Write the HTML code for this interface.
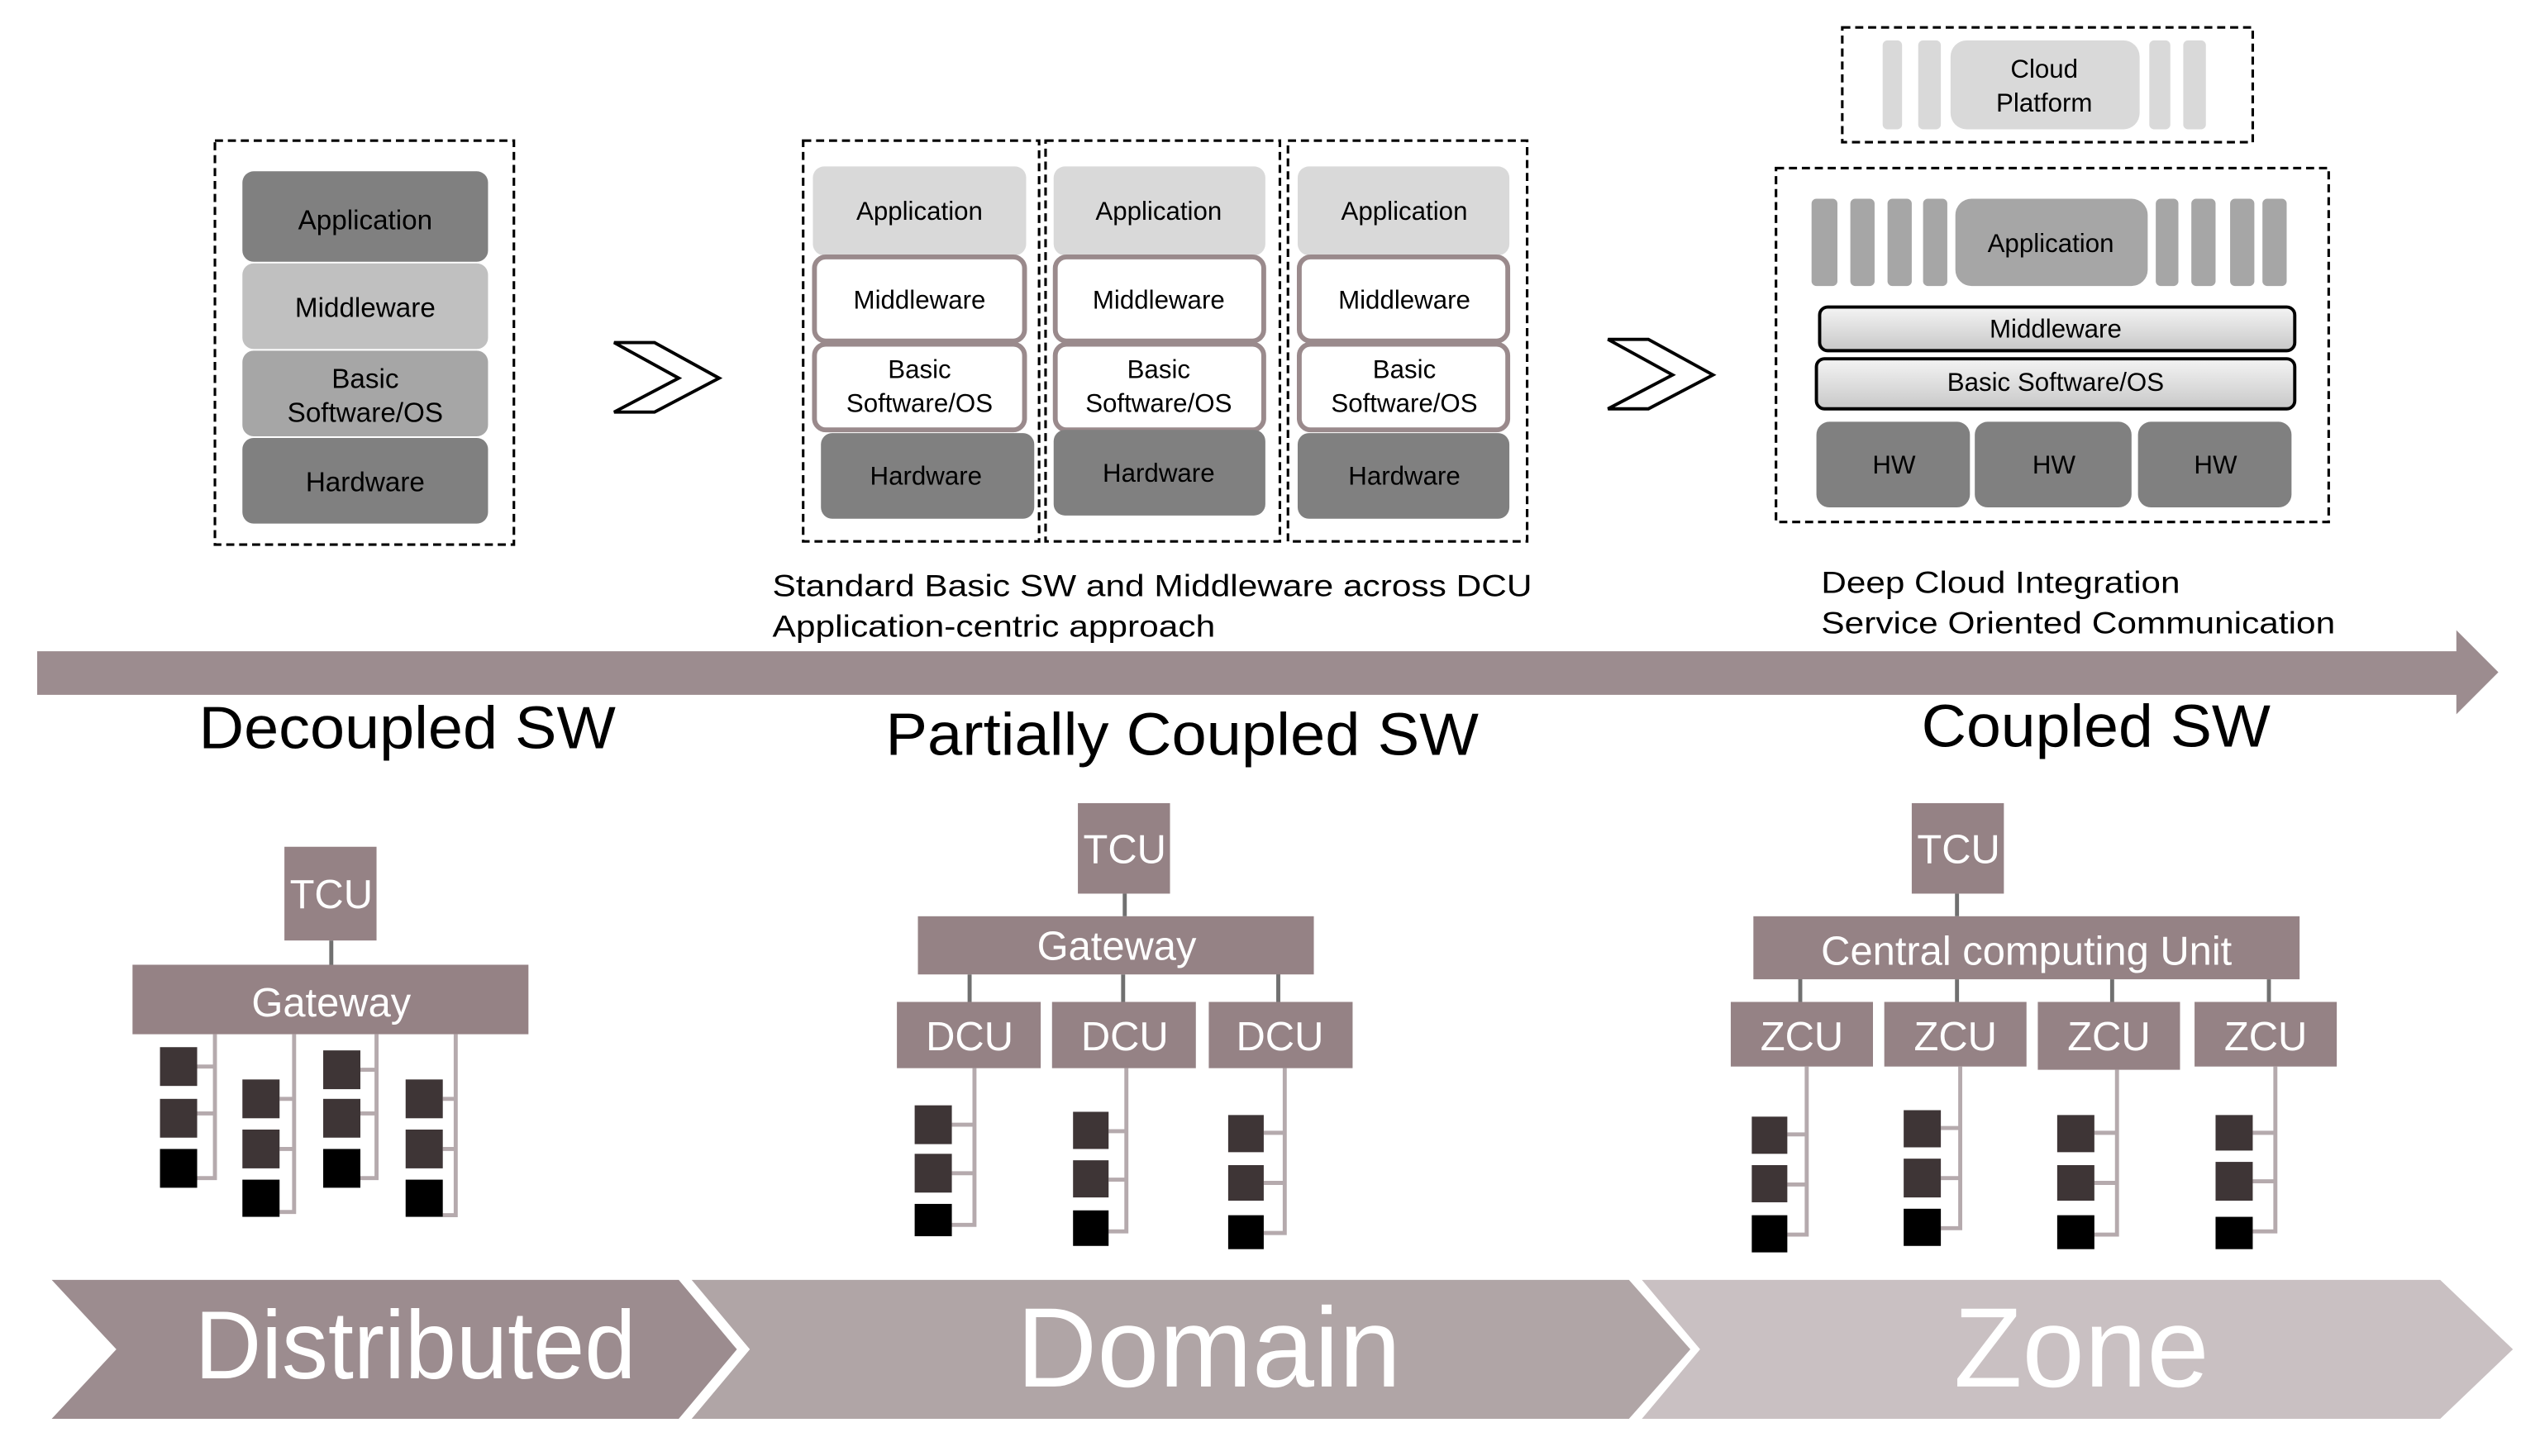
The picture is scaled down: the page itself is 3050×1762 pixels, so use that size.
<!DOCTYPE html>
<html><head><meta charset="utf-8"><style>
html,body{margin:0;padding:0;background:#fff;}
svg{display:block;}
text{font-family:"Liberation Sans",Arial,sans-serif;}
</style></head><body>
<svg width="3050" height="1762" viewBox="0 0 1560 901" preserveAspectRatio="none" xmlns="http://www.w3.org/2000/svg">
<defs>
<linearGradient id="g" x1="0" y1="0" x2="0" y2="1"><stop offset="0" stop-color="#f4f4f4"/><stop offset="1" stop-color="#c8c8c8"/></linearGradient>
</defs>
<g fill="none" stroke="#000" stroke-width="1.6" stroke-dasharray="5,3">
<rect x="133" y="87" width="185" height="250"/>
<rect x="497" y="87" width="146" height="248"/>
<rect x="647" y="87" width="145" height="248"/>
<rect x="797" y="87" width="148" height="248"/>
<rect x="1140" y="17" width="254" height="71"/>
<rect x="1099" y="104" width="342" height="219"/>
</g>
<!-- stack 1 -->
<rect x="150" y="106" width="152" height="56" rx="7" fill="#808080"/>
<rect x="150" y="163" width="152" height="53" rx="7" fill="#c0c0c0"/>
<rect x="150" y="217" width="152" height="53" rx="7" fill="#a6a6a6"/>
<rect x="150" y="271" width="152" height="53" rx="7" fill="#808080"/>
<g font-size="17" text-anchor="middle" fill="#000">
<text x="226" y="142">Application</text>
<text x="226" y="196">Middleware</text>
<text x="226" y="240">Basic</text>
<text x="226" y="261">Software/OS</text>
<text x="226" y="304">Hardware</text>
</g>
<!-- chevrons -->
<polygon points="380,212 405,212 445,234 405,255 380,255 420,234" fill="#fff" stroke="#000" stroke-width="2"/>
<polygon points="995,210 1020,210 1060,232 1020,253 995,253 1035,232" fill="#fff" stroke="#000" stroke-width="2"/>
<!-- domain stacks -->
<g>
<rect x="503" y="103" width="132" height="55" rx="7" fill="#d9d9d9"/>
<rect x="504" y="159" width="130" height="52" rx="7" fill="#fff" stroke="#9a8a8c" stroke-width="3"/>
<rect x="504" y="213" width="130" height="53" rx="7" fill="#fff" stroke="#9a8a8c" stroke-width="3"/>
<rect x="508" y="268" width="132" height="53" rx="7" fill="#808080"/>
<rect x="652" y="103" width="131" height="55" rx="7" fill="#d9d9d9"/>
<rect x="653" y="159" width="129" height="52" rx="7" fill="#fff" stroke="#9a8a8c" stroke-width="3"/>
<rect x="653" y="213" width="129" height="53" rx="7" fill="#fff" stroke="#9a8a8c" stroke-width="3"/>
<rect x="652" y="266" width="131" height="53" rx="7" fill="#808080"/>
<rect x="803" y="103" width="131" height="55" rx="7" fill="#d9d9d9"/>
<rect x="804" y="159" width="129" height="52" rx="7" fill="#fff" stroke="#9a8a8c" stroke-width="3"/>
<rect x="804" y="213" width="129" height="53" rx="7" fill="#fff" stroke="#9a8a8c" stroke-width="3"/>
<rect x="803" y="268" width="131" height="53" rx="7" fill="#808080"/>
</g>
<g font-size="16" text-anchor="middle" fill="#000">
<text x="569" y="136">Application</text><text x="569" y="191">Middleware</text><text x="569" y="234">Basic</text><text x="569" y="255">Software/OS</text><text x="573" y="300">Hardware</text>
<text x="717" y="136">Application</text><text x="717" y="191">Middleware</text><text x="717" y="234">Basic</text><text x="717" y="255">Software/OS</text><text x="717" y="298">Hardware</text>
<text x="869" y="136">Application</text><text x="869" y="191">Middleware</text><text x="869" y="234">Basic</text><text x="869" y="255">Software/OS</text><text x="869" y="300">Hardware</text>
</g>
<g font-size="19" fill="#000">
<text x="478" y="369" textLength="470" lengthAdjust="spacingAndGlyphs">Standard Basic SW and Middleware across DCU</text>
<text x="478" y="394" textLength="274" lengthAdjust="spacingAndGlyphs">Application-centric approach</text>
<text x="1127" y="367" textLength="222" lengthAdjust="spacingAndGlyphs">Deep Cloud Integration</text>
<text x="1127" y="392" textLength="318" lengthAdjust="spacingAndGlyphs">Service Oriented Communication</text>
</g>
<!-- cloud -->
<g fill="#d9d9d9">
<rect x="1165" y="25" width="12" height="55" rx="3"/><rect x="1187" y="25" width="14" height="55" rx="3"/>
<rect x="1207" y="25" width="117" height="55" rx="10"/>
<rect x="1330" y="25" width="13" height="55" rx="3"/><rect x="1351" y="25" width="14" height="55" rx="3"/>
</g>
<g font-size="16" text-anchor="middle"><text x="1265" y="48">Cloud</text><text x="1265" y="69">Platform</text></g>
<!-- zone stack -->
<g fill="#a6a6a6">
<rect x="1121" y="123" width="16" height="54" rx="3"/><rect x="1145" y="123" width="15" height="54" rx="3"/><rect x="1168" y="123" width="15" height="54" rx="3"/><rect x="1190" y="123" width="15" height="54" rx="3"/>
<rect x="1210" y="123" width="119" height="54" rx="10"/>
<rect x="1334" y="123" width="14" height="54" rx="3"/><rect x="1356" y="123" width="15" height="54" rx="3"/><rect x="1380" y="123" width="15" height="54" rx="3"/><rect x="1400" y="123" width="15" height="54" rx="3"/>
</g>
<rect x="1126" y="190" width="294" height="27" rx="5" fill="url(#g)" stroke="#000" stroke-width="2"/>
<rect x="1124" y="222" width="296" height="31" rx="5" fill="url(#g)" stroke="#000" stroke-width="2"/>
<g fill="#808080">
<rect x="1124" y="261" width="95" height="53" rx="8"/><rect x="1222" y="261" width="97" height="53" rx="8"/><rect x="1323" y="261" width="95" height="53" rx="8"/>
</g>
<g font-size="16" text-anchor="middle">
<text x="1269" y="156">Application</text><text x="1272" y="209">Middleware</text><text x="1272" y="242">Basic Software/OS</text>
<text x="1172" y="293">HW</text><text x="1271" y="293">HW</text><text x="1371" y="293">HW</text>
</g>
<!-- big arrow -->
<polygon points="23,403 1520,403 1520,390 1546,416 1520,442 1520,430 23,430" fill="#9c8c8f"/>
<g font-size="37" fill="#000">
<text x="123" y="463" textLength="258" lengthAdjust="spacingAndGlyphs">Decoupled SW</text>
<text x="548" y="467" textLength="367" lengthAdjust="spacingAndGlyphs">Partially Coupled SW</text>
<text x="1189" y="462" textLength="216" lengthAdjust="spacingAndGlyphs">Coupled SW</text>
</g>
<!-- tree connectors -->
<g stroke="#707070" stroke-width="2.5">
<line x1="205" y1="582" x2="205" y2="597"/>
<line x1="696" y1="553" x2="696" y2="567"/><line x1="600" y1="603" x2="600" y2="620"/><line x1="695" y1="603" x2="695" y2="620"/><line x1="791" y1="600" x2="791" y2="620"/>
<line x1="1211" y1="553" x2="1211" y2="567"/><line x1="1114" y1="600" x2="1114" y2="620"/><line x1="1211" y1="606" x2="1211" y2="620"/><line x1="1307" y1="606" x2="1307" y2="620"/><line x1="1404" y1="606" x2="1404" y2="620"/>
</g>
<g fill="none" stroke="#b5aaad" stroke-width="2.5">
<polyline points="122,660 133,660 133,640 133,729 122,729"/><line x1="122" y1="689" x2="133" y2="689"/>
<polyline points="173,680 182,680 182,640 182,750 173,750"/><line x1="173" y1="711" x2="182" y2="711"/>
<polyline points="223,662 233,662 233,640 233,729 223,729"/><line x1="223" y1="689" x2="233" y2="689"/>
<polyline points="274,680 282,680 282,640 282,752 274,752"/><line x1="274" y1="711" x2="282" y2="711"/>
<polyline points="589,696 603,696 603,661 603,758 589,758"/><line x1="589" y1="726" x2="603" y2="726"/>
<polyline points="686,700 697,700 697,661 697,762 686,762"/><line x1="686" y1="730" x2="697" y2="730"/>
<polyline points="782,701 795,701 795,661 795,763 782,763"/><line x1="782" y1="732" x2="795" y2="732"/>
<polyline points="1106,702 1118,702 1118,660 1118,764 1106,764"/><line x1="1106" y1="733" x2="1118" y2="733"/>
<polyline points="1201,698 1213,698 1213,660 1213,760 1201,760"/><line x1="1201" y1="729" x2="1213" y2="729"/>
<polyline points="1296,701 1310,701 1310,662 1310,764 1296,764"/><line x1="1296" y1="732" x2="1310" y2="732"/>
<polyline points="1394,701 1408,701 1408,660 1408,762 1394,762"/><line x1="1394" y1="731" x2="1408" y2="731"/>
</g>
<!-- tree boxes -->
<g fill="#958285">
<rect x="176" y="524" width="57" height="58"/><rect x="82" y="597" width="245" height="43"/>
<rect x="667" y="497" width="57" height="56"/><rect x="568" y="567" width="245" height="36"/>
<rect x="555" y="620" width="89" height="41"/><rect x="651" y="620" width="89" height="41"/><rect x="748" y="620" width="89" height="41"/>
<rect x="1183" y="497" width="57" height="56"/><rect x="1085" y="567" width="338" height="39"/>
<rect x="1071" y="620" width="88" height="40"/><rect x="1166" y="620" width="88" height="40"/><rect x="1261" y="620" width="88" height="42"/><rect x="1358" y="620" width="88" height="40"/>
</g>
<g fill="#fff" font-size="25" text-anchor="middle">
<text x="205" y="562">TCU</text><text x="205" y="629">Gateway</text>
<text x="696" y="534">TCU</text><text x="691" y="594">Gateway</text>
<text x="600" y="650">DCU</text><text x="696" y="650">DCU</text><text x="792" y="650">DCU</text>
<text x="1212" y="534">TCU</text><text x="1254" y="597">Central computing Unit</text>
<text x="1115" y="650">ZCU</text><text x="1210" y="650">ZCU</text><text x="1305" y="650">ZCU</text><text x="1402" y="650">ZCU</text>
</g>
<!-- squares -->
<g fill="#3e3536">
<rect x="99" y="648" width="23" height="24"/><rect x="99" y="680" width="23" height="24"/>
<rect x="150" y="668" width="23" height="24"/><rect x="150" y="699" width="23" height="24"/>
<rect x="200" y="650" width="23" height="24"/><rect x="200" y="680" width="23" height="24"/>
<rect x="251" y="668" width="23" height="24"/><rect x="251" y="699" width="23" height="24"/>
<rect x="566" y="684" width="23" height="24"/><rect x="566" y="714" width="23" height="24"/>
<rect x="664" y="688" width="22" height="23"/><rect x="664" y="718" width="22" height="23"/>
<rect x="760" y="690" width="22" height="23"/><rect x="760" y="721" width="22" height="22"/>
<rect x="1084" y="691" width="22" height="23"/><rect x="1084" y="721" width="22" height="23"/>
<rect x="1178" y="687" width="23" height="23"/><rect x="1178" y="717" width="23" height="24"/>
<rect x="1273" y="690" width="23" height="23"/><rect x="1273" y="721" width="23" height="22"/>
<rect x="1371" y="690" width="23" height="22"/><rect x="1371" y="719" width="23" height="24"/>
</g>
<g fill="#000">
<rect x="99" y="711" width="23" height="24"/><rect x="150" y="730" width="23" height="23"/><rect x="200" y="711" width="23" height="24"/><rect x="251" y="730" width="23" height="23"/>
<rect x="566" y="745" width="23" height="20"/><rect x="664" y="749" width="22" height="22"/><rect x="760" y="752" width="22" height="21"/>
<rect x="1084" y="752" width="22" height="23"/><rect x="1178" y="748" width="23" height="23"/><rect x="1273" y="752" width="23" height="21"/><rect x="1371" y="753" width="23" height="20"/>
</g>
<!-- bottom chevrons -->
<polygon points="1016,792 1510,792 1555,835 1510,878 1016,878 1052,835" fill="#c9c0c2"/>
<polygon points="428,792 1008,792 1046,835 1008,878 428,878 464,835" fill="#b0a5a6"/>
<polygon points="32,792 420,792 456,835 420,878 32,878 72,835" fill="#9c8c8f"/>
<g fill="none" stroke="#fff" stroke-width="3">
<polyline points="424,790 462,835 424,880"/><polyline points="1012,790 1050,835 1012,880"/>
</g>
<g fill="#fff" text-anchor="middle">
<text x="257" y="853" font-size="60" textLength="273" lengthAdjust="spacingAndGlyphs">Distributed</text>
<text x="748" y="858" font-size="70" textLength="238" lengthAdjust="spacingAndGlyphs">Domain</text>
<text x="1288" y="858" font-size="70" textLength="158" lengthAdjust="spacingAndGlyphs">Zone</text>
</g>
</svg>
</body></html>
